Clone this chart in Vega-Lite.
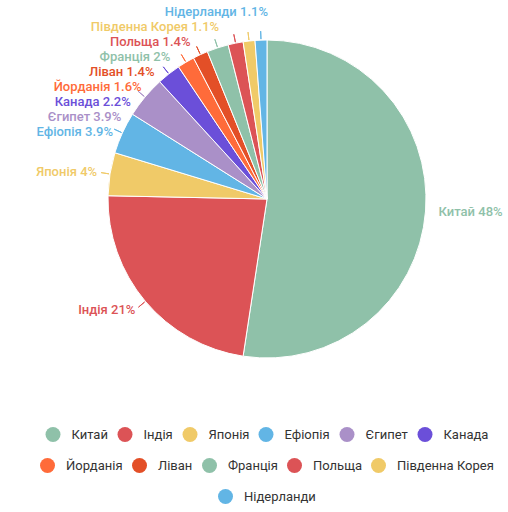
{
  "$schema": "https://vega.github.io/schema/vega-lite/v6.json",
  "width": 482,
  "height": 398,
  "padding": {"left": 26, "top": 0, "right": 0, "bottom": 0},
  "background": "white",
  "config": {
    "view": {"stroke": null},
    "font": "Roboto",
    "legend": {
      "orient": "bottom",
      "direction": "horizontal",
      "title": null,
      "symbolType": "circle",
      "symbolSize": 225,
      "symbolStrokeWidth": 0,
      "labelFont": "Roboto",
      "labelFontSize": 13,
      "labelColor": "#333333",
      "labelOffset": 11,
      "columnPadding": 9,
      "padding": 0,
      "offset": 29,
      "labelLimit": 200,
      "layout": {"bottom": {"anchor": "middle", "direction": "vertical", "center": true, "margin": 16}}
    }
  },
  "data": {
    "values": [
      {"order": 1, "name": "Китай", "value": 48, "label": "Китай 48%"},
      {"order": 2, "name": "Індія", "value": 21, "label": "Індія 21%"},
      {"order": 3, "name": "Японія", "value": 4, "label": "Японія 4%"},
      {"order": 4, "name": "Ефіопія", "value": 3.9, "label": "Ефіопія 3.9%"},
      {"order": 5, "name": "Єгипет", "value": 3.9, "label": "Єгипет 3.9%"},
      {"order": 6, "name": "Канада", "value": 2.2, "label": "Канада 2.2%"},
      {"order": 7, "name": "Йорданія", "value": 1.6, "label": "Йорданія 1.6%"},
      {"order": 8, "name": "Ліван", "value": 1.4, "label": "Ліван 1.4%"},
      {"order": 9, "name": "Франція", "value": 2, "label": "Франція 2%"},
      {"order": 10, "name": "Польща", "value": 1.4, "label": "Польща 1.4%"},
      {"order": 11, "name": "Південна Корея", "value": 1.1, "label": "Південна Корея 1.1%"},
      {"order": 12, "name": "Нідерланди", "value": 1.1, "label": "Нідерланди 1.1%"}
    ]
  },
  "layer": [
    {
      "mark": {"type": "arc", "outerRadius": 159, "stroke": "white", "strokeWidth": 1},
      "encoding": {
        "theta": {"field": "value", "type": "quantitative", "stack": true},
        "order": {"field": "order", "type": "quantitative"},
        "color": {
          "field": "name", "type": "nominal",
          "scale": {
            "domain": ["Китай", "Індія", "Японія", "Ефіопія", "Єгипет", "Канада", "Йорданія", "Ліван", "Франція", "Польща", "Південна Корея", "Нідерланди"],
            "range": ["#8fc1a9", "#dc5356", "#f0ca68", "#62b5e5", "#aa90c8", "#6b4fd9", "#ff6b3a", "#e34f27", "#8fc1a9", "#dc5356", "#f0ca68", "#62b5e5"]
          },
          "legend": {"values": ["Китай", "Індія", "Японія", "Ефіопія", "Єгипет", "Канада"]}
        }
      }
    },
    {
      "mark": {"type": "arc", "innerRadius": 160, "outerRadius": 168, "padAngle": 3.1416, "filled": false, "strokeWidth": 1},
      "encoding": {
        "theta": {"field": "value", "type": "quantitative", "stack": true},
        "order": {"field": "order", "type": "quantitative"},
        "strokeOpacity": {"condition": {"test": "datum.order === 1", "value": 0}, "value": 1},
        "color": {
          "field": "name", "type": "nominal",
          "scale": {
            "domain": ["Китай", "Індія", "Японія", "Ефіопія", "Єгипет", "Канада", "Йорданія", "Ліван", "Франція", "Польща", "Південна Корея", "Нідерланди"],
            "range": ["#8fc1a9", "#dc5356", "#f0ca68", "#62b5e5", "#aa90c8", "#6b4fd9", "#ff6b3a", "#e34f27", "#8fc1a9", "#dc5356", "#f0ca68", "#62b5e5"]
          },
          "legend": null
        }
      }
    },
    {
      "mark": {"type": "text", "radius": 170, "align": "left", "baseline": "middle", "fontSize": 13, "fontWeight": 500, "dx": 2},
      "encoding": {
        "theta": {"field": "value", "type": "quantitative", "stack": true},
        "order": {"field": "order", "type": "quantitative"},
        "text": {"condition": {"test": "datum.order === 1", "field": "label"}, "value": ""},
        "color": {
          "field": "name", "type": "nominal",
          "scale": {
            "domain": ["Китай", "Індія", "Японія", "Ефіопія", "Єгипет", "Канада", "Йорданія", "Ліван", "Франція", "Польща", "Південна Корея", "Нідерланди"],
            "range": ["#8fc1a9", "#dc5356", "#f0ca68", "#62b5e5", "#aa90c8", "#6b4fd9", "#ff6b3a", "#e34f27", "#8fc1a9", "#dc5356", "#f0ca68", "#62b5e5"]
          },
          "legend": null
        }
      }
    },
    {
      "mark": {"type": "text", "radius": 172, "align": "right", "baseline": "middle", "fontSize": 13, "fontWeight": 500},
      "encoding": {
        "theta": {"field": "value", "type": "quantitative", "stack": true},
        "order": {"field": "order", "type": "quantitative"},
        "text": {"condition": {"test": "datum.order === 2 || datum.order === 3", "field": "label"}, "value": ""},
        "color": {
          "field": "name", "type": "nominal",
          "scale": {
            "domain": ["Китай", "Індія", "Японія", "Ефіопія", "Єгипет", "Канада", "Йорданія", "Ліван", "Франція", "Польща", "Південна Корея", "Нідерланди"],
            "range": ["#8fc1a9", "#dc5356", "#f0ca68", "#62b5e5", "#aa90c8", "#6b4fd9", "#ff6b3a", "#e34f27", "#8fc1a9", "#dc5356", "#f0ca68", "#62b5e5"]
          },
          "legend": {"values": ["Йорданія", "Ліван", "Франція", "Польща", "Південна Корея"]}
        }
      }
    },
    {
      "transform": [
        {"filter": "datum.order >= 4"},
        {"window": [{"op": "row_number", "as": "rn"}], "sort": [{"field": "order", "order": "descending"}]}
      ],
      "mark": {"type": "text", "align": "right", "baseline": "middle", "fontSize": 13, "fontWeight": 500},
      "encoding": {
        "x": {"field": "rn", "type": "quantitative", "axis": null, "scale": {"type": "log", "domain": [1, 9], "range": [242, 87]}},
        "y": {"field": "rn", "type": "quantitative", "axis": null, "scale": {"type": "linear", "domain": [1, 9], "range": [12, 132]}},
        "text": {"field": "label"},
        "color": {
          "field": "name", "type": "nominal",
          "scale": {
            "domain": ["Китай", "Індія", "Японія", "Ефіопія", "Єгипет", "Канада", "Йорданія", "Ліван", "Франція", "Польща", "Південна Корея", "Нідерланди"],
            "range": ["#8fc1a9", "#dc5356", "#f0ca68", "#62b5e5", "#aa90c8", "#6b4fd9", "#ff6b3a", "#e34f27", "#8fc1a9", "#dc5356", "#f0ca68", "#62b5e5"]
          },
          "legend": {"values": ["Нідерланди"]}
        }
      }
    }
  ],
  "resolve": {"scale": {"color": "independent", "x": "independent", "y": "independent"}, "legend": {"color": "independent"}}
}
